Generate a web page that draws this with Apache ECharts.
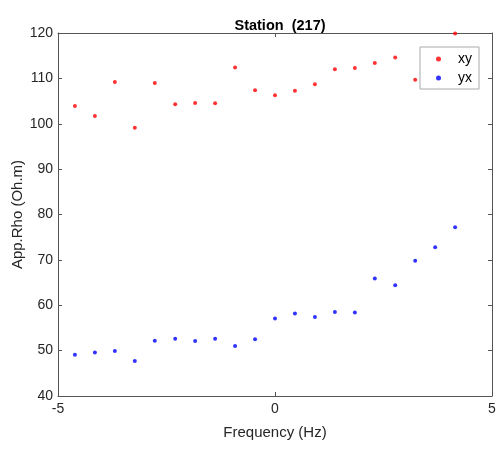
<!DOCTYPE html>
<html><head><meta charset="utf-8">
<script src="https://cdn.jsdelivr.net/npm/echarts@6/dist/echarts.min.js"></script>
<style>html,body{margin:0;padding:0;background:#fff}#c{width:502px;height:450px}</style>
</head><body><div id="c"></div>
<script>
var freq = [-4.61,-4.15,-3.69,-3.23,-2.77,-2.30,-1.84,-1.38,-0.92,-0.46,0,0.46,0.92,1.38,1.84,2.30,2.77,3.23,3.69,4.15];
var xyVals = [103.9,101.7,109.2,99.1,109.0,104.3,104.6,104.5,112.4,107.4,106.3,107.3,108.7,112.0,112.3,113.4,114.6,109.7,null,119.9];
var yxVals = [49.1,49.6,49.9,47.7,52.2,52.6,52.1,52.6,51.0,52.5,57.1,58.2,57.4,58.5,58.4,65.9,64.4,69.8,72.8,77.2];
var xTicks = [-5,0,5];
var yTicks = [40,50,60,70,80,90,100,110,120];

function pairs(xs, ys){var o=[];for(var i=0;i<xs.length;i++){if(ys[i]!==null)o.push([xs[i],ys[i]]);}return o;}
var font='Liberation Sans, Arial, sans-serif';
var axCol='#555';
var chart = echarts.init(document.getElementById('c'));
chart.setOption({
  animation:false,
  title:{text:'Station  (217)',left:275,top:13,textAlign:'center',textStyle:{fontFamily:font,fontSize:14.5,fontWeight:'bold',color:'#000'}},
  grid:{left:58,right:10,top:33,bottom:54,containLabel:false,outerBoundsMode:'none'},
  legend:{right:23,top:47,orient:'vertical',backgroundColor:'#fff',borderColor:'#aaa',borderWidth:1,padding:[5,7,4,16],itemGap:5,itemWidth:5,itemHeight:5,icon:'circle',
    textStyle:{fontFamily:font,fontSize:14,color:'#000',padding:[0,0,0,12]},data:['xy','yx']},
  xAxis:[
    {type:'value',min:-5,max:5,interval:5,name:'Frequency (Hz)',nameLocation:'middle',nameGap:29,
     nameTextStyle:{fontFamily:font,fontSize:15,color:'#262626'},
     axisLine:{show:true,onZero:false,lineStyle:{color:axCol}},axisTick:{show:true,inside:true,length:4,lineStyle:{color:axCol}},
     axisLabel:{fontFamily:font,fontSize:14,color:'#262626',margin:6},splitLine:{show:false}},
    {type:'value',min:-5,max:5,interval:5,position:'top',
     axisLine:{show:true,onZero:false,lineStyle:{color:axCol}},axisTick:{show:true,inside:true,length:4,lineStyle:{color:axCol}},
     axisLabel:{show:false},splitLine:{show:false}}
  ],
  yAxis:[
    {type:'value',min:40,max:120,interval:10,position:'left',name:'App.Rho (Oh.m)',nameLocation:'middle',nameGap:33,nameMoveOverlap:false,
     nameTextStyle:{fontFamily:font,fontSize:15,color:'#262626'},
     axisLine:{show:true,onZero:false,lineStyle:{color:axCol}},axisTick:{show:true,inside:true,length:4,lineStyle:{color:axCol}},
     axisLabel:{fontFamily:font,fontSize:14,color:'#262626',margin:5},splitLine:{show:false}},
    {type:'value',min:40,max:120,interval:10,position:'right',
     axisLine:{show:true,onZero:false,lineStyle:{color:axCol}},axisTick:{show:true,inside:true,length:4,lineStyle:{color:axCol}},
     axisLabel:{show:false},splitLine:{show:false}}
  ],
  series:[
    {name:'xy',type:'scatter',data:pairs(freq,xyVals),symbol:'circle',symbolSize:4,itemStyle:{color:'#ff0000'}},
    {name:'yx',type:'scatter',data:pairs(freq,yxVals),symbol:'circle',symbolSize:4,itemStyle:{color:'#0000ff'}}
  ]
});
</script></body></html>
